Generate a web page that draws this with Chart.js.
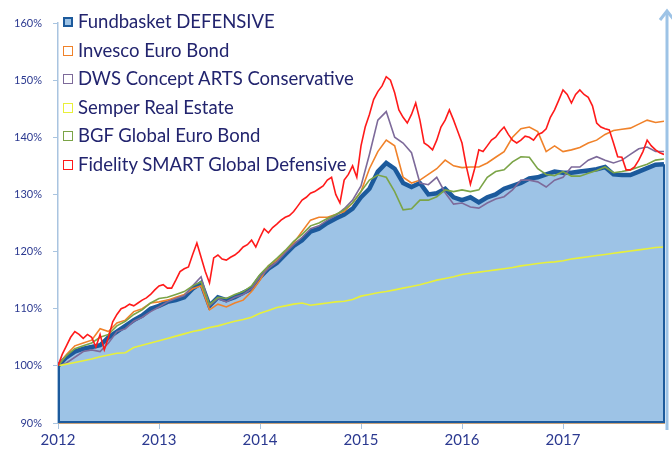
<!DOCTYPE html>
<html>
<head>
<meta charset="utf-8">
<script src="https://cdn.jsdelivr.net/npm/chart.js@4"></script>
<style>
  html, body { margin: 0; padding: 0; background: #fff; }
  #wrap { position: relative; width: 672px; height: 452px; }
  #legend { position: absolute; left: 63px; top: 7px; font: 18.5px Lato, sans-serif; color: #22246E; }
  #legend div { height: 28.6px; line-height: 28.6px; white-space: nowrap; }
  #legend span.sw { display: inline-block; width: 8px; height: 8px; border: 1.5px solid; margin-right: 5px; vertical-align: 1px; }
</style>
</head>
<body>
<div id="wrap">
  <canvas id="chart" width="672" height="452"></canvas>
  <div id="legend"></div>
</div>
<script>
/* fund performance since 2012, monthly readings (index = month, 0 = Jan 2012, 72 = end 2017) */

const YEARS = ['2012', '2013', '2014', '2015', '2016', '2017'];

const FUNDBASKET = [100, 101.5, 102.5, 103, 103.3, 103.6, 105, 106, 107, 108, 108.8, 110,
  110.5, 111.2, 111.5, 112, 113.5, 114.5, 110.5, 112, 111.5, 112, 112.8, 113.5,
  115.5, 117, 118, 119.5, 121, 122, 123.5, 124, 125, 125.8, 126.5, 127.5,
  129.5, 131, 134, 135.5, 134.5, 132, 131.3, 132, 130, 130.2, 131, 129.5,
  129, 129.5, 128.6, 129.5, 130, 131, 131.5, 132, 132.8, 133, 133.5, 134,
  133.8, 133.8, 134, 134.2, 134.4, 134.8, 133.5, 133.4, 133.4, 134, 134.6, 135.2, 135.3];

const INVESCO = [100, 102, 103.5, 104, 104.5, 106.5, 106, 107.5, 108, 109.5, 110, 111,
  111.2, 111.5, 112, 112.5, 113.5, 114, 109.8, 110.8, 110.3, 111, 111.5, 113,
  115, 117.5, 118.5, 120, 121.5, 123.5, 125.5, 126, 126, 126.5, 127, 128.5,
  130.5, 134.5, 137.5, 139.5, 138.5, 133, 132, 132.5, 133.5, 134.5, 136, 135,
  134.7, 134.8, 134.8, 135.5, 136.5, 137.5, 140, 141.5, 141.8, 141, 137.5, 138.5,
  137.5, 137.8, 138.2, 139, 139.5, 140.5, 141.2, 141.4, 141.6, 142.3, 143, 142.6, 142.8];

const DWS = [100, 100.5, 101.5, 102.5, 102.8, 102.5, 104, 106, 106.5, 107.8, 108.5, 109.5,
  110.3, 111.2, 111.8, 112.3, 114, 115.6, 110.5, 111.8, 111.2, 112, 112.5, 113.5,
  115.6, 117, 118.2, 119.8, 121.2, 122.5, 124, 124.5, 125.5, 126.3, 127.5, 129,
  131.5, 137, 143, 144.5, 140, 139, 137.3, 132, 131.7, 133, 130.3, 128.3,
  128.5, 127.8, 127.6, 128.5, 129.2, 129.6, 130.8, 132.5, 132.5, 132.2, 131.3, 132.5,
  133, 134.8, 134.8, 136, 136.6, 136, 135.5, 136, 137, 138, 138.3, 137.5, 137.5];

const SEMPER = [100, 100.3, 100.6, 100.9, 101.2, 101.6, 101.9, 102.2, 102.3, 103.2, 103.6, 104,
  104.4, 104.8, 105.2, 105.6, 106, 106.3, 106.7, 107, 107.4, 107.8, 108.1, 108.5,
  109.2, 109.7, 110.2, 110.5, 110.8, 111, 110.6, 110.8, 111, 111.2, 111.3, 111.6,
  112.2, 112.5, 112.8, 113, 113.3, 113.6, 113.9, 114.2, 114.6, 115, 115.3, 115.6,
  116, 116.2, 116.4, 116.6, 116.8, 117, 117.2, 117.5, 117.7, 117.9, 118.1, 118.2,
  118.4, 118.7, 118.9, 119.1, 119.3, 119.5, 119.7, 119.9, 120.1, 120.3, 120.5, 120.7, 120.8];

const BGF = [100, 101.8, 103, 103.5, 104, 105, 105.5, 107, 107.8, 109, 109.8, 111,
  111.8, 112, 112.5, 113, 114, 114.7, 110.7, 112, 111.8, 112.5, 113, 114,
  116, 117.5, 118.8, 120.2, 121.8, 123, 124.5, 125, 125.8, 126.5, 127.3, 128.5,
  130.5, 132.5, 133.4, 133, 130.5, 127.3, 127.5, 129, 129, 129.6, 130.8, 130.5,
  130.8, 130.5, 130.8, 133, 134, 134.3, 135.7, 136.6, 136.5, 134.5, 133.5, 133.3,
  134, 133.2, 133.2, 133.7, 134.2, 134.8, 133.8, 134, 134.3, 134.8, 135.3, 136, 136.2];

/* Fidelity is more volatile: half-month readings (index / 2 = month) */
const FIDELITY = [100, 102, 103.5, 105, 106, 105.5, 104.8, 105.5, 105, 103.3, 105.5, 102.8,
  105, 107.7, 109, 110, 110.3, 110.8, 110.5, 111, 111.5, 111.9, 112.5, 113.3,
  114, 114.2, 113.6, 113.6, 115, 116.5, 117, 117.3, 119.5, 121.5, 119, 116.5,
  114.5, 118.9, 119.4, 118.7, 118.5, 119, 119.4, 120, 120.8, 121.2, 122, 120.8,
  122.5, 124, 123.3, 124.2, 124.8, 125.5, 126, 126.3, 127, 128, 129, 129.5,
  130.2, 130.5, 131, 131.5, 132.5, 133, 130, 128.5, 132.5, 133.5, 135, 133,
  138.5, 141.8, 144, 146.6, 148, 149, 150.6, 150, 147.8, 144.8, 143.5, 142.5,
  144, 146, 143, 139, 138.5, 137.8, 139.5, 141.8, 143, 144.8, 143, 141,
  139, 135, 131.8, 134.5, 137.8, 137.5, 138.5, 139.5, 140, 141, 141.8, 140.5,
  139.5, 139, 139.5, 140.2, 140, 139.5, 140.5, 140.8, 141.5, 143.5, 144.8, 146.5,
  148.3, 147.5, 146, 147.5, 148.3, 147.5, 147, 145.5, 142.5, 141.8, 141.5, 141.3,
  139, 136.6, 136.5, 134.3, 134.3, 134.8, 136, 137.5, 139.5, 138.5, 137.8, 137.3, 137];

const SERIES = [
  { label: 'Fundbasket DEFENSIVE', values: FUNDBASKET, step: 1, color: '#1C5A9C' },
  { label: 'Invesco Euro Bond', values: INVESCO, step: 1, color: '#F0822A' },
  { label: 'DWS Concept ARTS Conservative', values: DWS, step: 1, color: '#7D6A9A' },
  { label: 'Semper Real Estate', values: SEMPER, step: 1, color: '#E8F03A' },
  { label: 'BGF Global Euro Bond', values: BGF, step: 1, color: '#7BA447' },
  { label: 'Fidelity SMART Global Defensive', values: FIDELITY, step: 0.5, color: '#FF1A1A' },
];

const AREA_FILL = '#9DC3E6';
const TICK_COLOR = '#2B3990';

const datasets = SERIES.map((s, i) => ({
  label: s.label,
  data: s.values.map((v, k) => ({ x: k * s.step, y: v })),
  borderColor: s.color,
  borderWidth: i === 0 ? 4.5 : 1.6,
  backgroundColor: i === 0 ? AREA_FILL : s.color,
  fill: i === 0 ? 'start' : false,
  pointRadius: 0,
  tension: 0,
  order: i === 0 ? 10 : 6 - i,
}));

/* edges of the filled area + the arrow on the right */
const decor = {
  id: 'decor',
  afterDatasetsDraw(chart) {
    const { ctx, chartArea: a } = chart;
    const pts = chart.getDatasetMeta(0).data;
    const first = pts[0], last = pts[pts.length - 1];
    ctx.save();
    ctx.strokeStyle = '#1C5A9C';
    ctx.lineWidth = 2;
    ctx.beginPath();
    ctx.moveTo(first.x + 1, first.y);
    ctx.lineTo(first.x + 1, a.bottom - 1);
    ctx.lineTo(last.x, a.bottom - 1);
    ctx.lineTo(last.x, last.y);
    ctx.stroke();
    ctx.restore();
  },
  afterDraw(chart) {
    const { ctx, chartArea: a } = chart;
    const x = a.right + 3;
    ctx.save();
    ctx.strokeStyle = '#9DC3E6';
    ctx.lineWidth = 3;
    ctx.beginPath();
    ctx.moveTo(x, a.bottom + 7);
    ctx.lineTo(x, a.top - 12);
    ctx.stroke();
    ctx.beginPath();
    ctx.moveTo(x - 7, a.top - 3);
    ctx.lineTo(x, a.top - 12);
    ctx.lineTo(x + 7, a.top - 3);
    ctx.stroke();
    ctx.restore();
  },
};

const chart = new Chart(document.getElementById('chart'), {
  type: 'line',
  data: { datasets },
  plugins: [decor],
  options: {
    responsive: false,
    animation: false,
    layout: { padding: { top: 23, right: 8, left: 0, bottom: 0 } },
    plugins: { legend: { display: false }, tooltip: { enabled: false } },
    scales: {
      x: {
        type: 'linear',
        min: 0, max: 72,
        afterFit: s => { s.height = 29; },
        border: { color: '#C9A27A', width: 2 },
        grid: { drawOnChartArea: false, tickLength: 6, color: '#A9C4E0' },
        ticks: {
          stepSize: 12, padding: 2, color: TICK_COLOR,
          font: { family: 'Lato', size: 15 },
          maxRotation: 0,
          callback: v => YEARS[v / 12] ?? null,
        },
      },
      y: {
        min: 90, max: 160,
        afterFit: s => { s.width = 58; },
        border: { color: '#A9C4E0', width: 1.5 },
        grid: { drawOnChartArea: false, tickLength: 5, color: '#A9C4E0' },
        ticks: {
          stepSize: 10, padding: 11, color: TICK_COLOR,
          font: { family: 'Lato', size: 11 },
          callback: v => v + '%',
        },
      },
    },
  },
});

/* legend overlay */
const legend = document.getElementById('legend');
SERIES.forEach((s, i) => {
  const row = document.createElement('div');
  const sw = document.createElement('span');
  sw.className = 'sw';
  sw.style.borderColor = s.color;
  if (i === 0) { sw.style.background = AREA_FILL; sw.style.borderWidth = '2.5px'; sw.style.width = '6px'; sw.style.height = '6px'; }
  row.appendChild(sw);
  row.appendChild(document.createTextNode(s.label));
  legend.appendChild(row);
});
</script>
</body>
</html>
